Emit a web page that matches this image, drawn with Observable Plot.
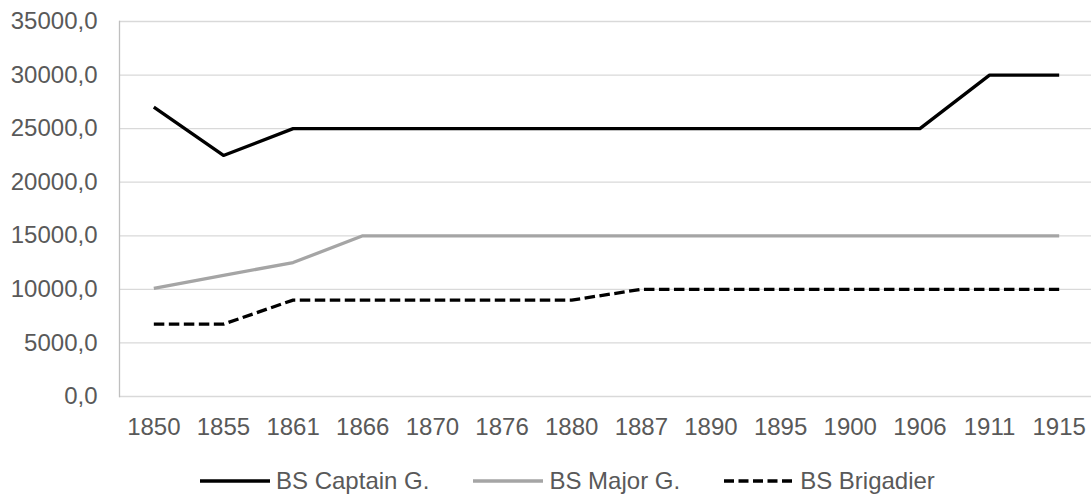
<!DOCTYPE html>
<html>
<head>
<meta charset="utf-8">
<script src="https://cdn.jsdelivr.net/npm/d3@7"></script>
<script src="https://cdn.jsdelivr.net/npm/@observablehq/plot@0.6"></script>
<style>
  html, body { margin: 0; padding: 0; background: #fff; }
  #wrap { position: relative; width: 1091px; height: 497px; font-family: "Liberation Sans", Arial, sans-serif; }
  #legend { position: absolute; left: 200px; top: 469px; height: 24px; display: flex; align-items: center; font-size: 24px; color: #595959; }
  .item { display: flex; align-items: center; margin-right: 44px; }
  .item svg { margin-right: 6px; }
</style>
</head>
<body>
<div id="wrap">
  <div id="chart"></div>
  <div id="legend"></div>
</div>
<script>
const years = ["1850","1855","1861","1866","1870","1876","1880","1887","1890","1895","1900","1906","1911","1915"];
const captainG = [27000,22500,25000,25000,25000,25000,25000,25000,25000,25000,25000,25000,30000,30000];
const majorG = [10100,11300,12500,15000,15000,15000,15000,15000,15000,15000,15000,15000,15000,15000];
const brigadier = [6750,6750,9000,9000,9000,9000,9000,10000,10000,10000,10000,10000,10000,10000];
const seriesNames = ["BS Captain G.","BS Major G.","BS Brigadier"];
const yTicks = [0,5000,10000,15000,20000,25000,30000,35000];

const seriesStyle = {
  "BS Captain G.": {stroke: "#000000", dash: null},
  "BS Major G.": {stroke: "#A5A5A5", dash: null},
  "BS Brigadier": {stroke: "#000000", dash: "10.5,4.5"}
};

const allValues = [captainG, majorG, brigadier];
const rows = [];
seriesNames.forEach((s, i) => years.forEach((y, j) => rows.push({series: s, year: y, value: allValues[i][j]})));

const fmt = d => d.toFixed(1).replace(".", ",");

const chart = Plot.plot({
  width: 1091,
  height: 450,
  marginLeft: 119,
  marginRight: 0,
  marginTop: 21,
  marginBottom: 54,
  style: {fontFamily: "'Liberation Sans', Arial, sans-serif", fontSize: "24px", color: "#595959", background: "#fff"},
  x: {type: "point", domain: years, padding: 0.5, round: false, range: [118.5, 1093.5], label: null},
  y: {domain: [0, 35000], ticks: yTicks, label: null},
  marks: [
    Plot.gridY(yTicks, {stroke: "#D9D9D9", strokeOpacity: 1, strokeWidth: 1.3}),
    Plot.frame({anchor: "left", stroke: "#BFBFBF", strokeWidth: 1.3}),
    Plot.axisY(yTicks, {tickSize: 0, tickPadding: 22, tickFormat: fmt, fill: "#595959", fontSize: 24, label: null}),
    Plot.axisX(years, {tickSize: 0, tickPadding: 21, fill: "#595959", fontSize: 24, label: null}),
    ...seriesNames.map(s => Plot.line(rows.filter(r => r.series === s), {
      x: "year", y: "value",
      stroke: seriesStyle[s].stroke,
      strokeWidth: 3.3,
      strokeDasharray: seriesStyle[s].dash,
      strokeLinejoin: "round",
      strokeLinecap: "butt"
    }))
  ]
});
document.getElementById("chart").appendChild(chart);

const legend = document.getElementById("legend");
seriesNames.forEach(s => {
  const st = seriesStyle[s];
  const item = document.createElement("div");
  item.className = "item";
  const dash = st.dash ? ` stroke-dasharray="10,4.5"` : "";
  item.innerHTML = `<svg width="70" height="10"><line x1="0" y1="5" x2="70" y2="5" stroke="${st.stroke}" stroke-width="3.3"${dash}/></svg><span>${s}</span>`;
  legend.appendChild(item);
});
</script>
</body>
</html>
